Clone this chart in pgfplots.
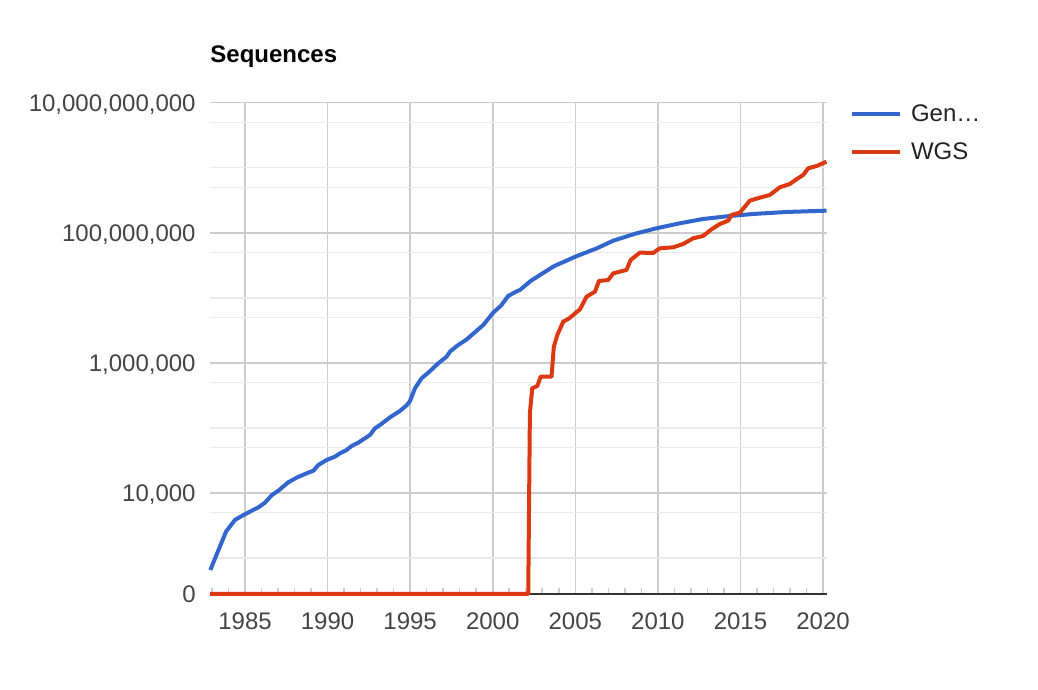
\documentclass[border=0pt]{standalone}
\usepackage{fontspec}
\setmainfont{Liberation Sans}
\usepackage{pgfplots}
\pgfplotsset{compat=1.18}

\definecolor{genblue}{HTML}{3366CC}
\definecolor{wgsred}{HTML}{DC3912}
\definecolor{gridmajor}{HTML}{CCCCCC}
\definecolor{gridminor}{HTML}{EBEBEB}
\definecolor{ticktext}{HTML}{444444}
\definecolor{legendtext}{HTML}{222222}
\definecolor{axisdark}{HTML}{333333}

\newcommand{\chartfont}{\fontsize{12}{14}\selectfont}

\begin{document}
\begin{tikzpicture}
% canvas
\useasboundingbox (0,0) rectangle (519pt,345pt);

\begin{axis}[
  at={(105pt,48pt)}, anchor=south west,
  scale only axis, width=308.25pt, height=245.65pt,
  xmin=1982.88, xmax=2020.21,
  % y holds log10 of the number of sequences; the bottom edge stands for 0
  ymin=2.447, ymax=10,
  clip=false,
  axis line style={draw=none},
  xtick={1985,1990,...,2020},
  xticklabels={1985,1990,1995,2000,2005,2010,2015,2020},
  minor xtick={1983,...,2020},
  ytick={2.447,4,6,8,10},
  yticklabels={0,{10,000},{1,000,000},{100,000,000},{10,000,000,000}},
  xtick pos=bottom, ytick pos=left,
  tick align=inside,
  major tick length=0pt,
  minor tick length=3pt,
  minor tick style={gridmajor, line width=0.75pt},
  xmajorgrids, ymajorgrids,
  major grid style={gridmajor, line width=0.8pt},
  tick label style={font=\chartfont, text=ticktext, inner sep=0pt},
  yticklabel style={anchor=base east, xshift=-7pt, yshift=-4.3pt},
  xticklabel style={anchor=base, yshift=-18pt},
]

% light gridlines at 5x10^k and odd powers of ten
\pgfplotsinvokeforeach{3,3.699,4.699,5,5.699,6.699,7,7.699,8.699,9,9.699}{
  \draw[gridminor, line width=0.75pt] (axis cs:1982.88,#1) -- (axis cs:2020.21,#1);
}
% baseline
\draw[axisdark, line width=1pt] (axis cs:1982.88,2.447) -- (axis cs:2020.21,2.447);

% GenBank
\addplot[genblue, line width=2pt, line join=round] table {
1982.90 2.816
1983.85 3.406
1984.39 3.585
1984.80 3.646
1985.30 3.713
1985.81 3.779
1986.21 3.851
1986.61 3.964
1987.02 4.036
1987.62 4.164
1988.13 4.236
1988.73 4.302
1989.14 4.343
1989.44 4.430
1989.94 4.507
1990.45 4.559
1990.75 4.610
1991.15 4.661
1991.46 4.723
1991.86 4.774
1992.57 4.892
1992.87 4.994
1993.17 5.045
1993.78 5.163
1994.38 5.261
1994.79 5.348
1994.99 5.414
1995.29 5.609
1995.69 5.763
1996.10 5.850
1996.70 5.993
1997.21 6.096
1997.41 6.173
1997.91 6.275
1998.42 6.360
1999.43 6.583
2000.03 6.772
2000.50 6.880
2000.94 7.030
2001.45 7.100
2001.65 7.121
2002.30 7.260
2002.86 7.351
2003.66 7.479
2003.87 7.505
2005.08 7.641
2006.29 7.760
2007.30 7.879
2008.71 7.992
2009.92 8.069
2011.33 8.146
2012.74 8.212
2014.36 8.258
2015.77 8.289
2017.79 8.320
2020.21 8.340
};

% WGS (zero before 2002)
\addplot[wgsred, line width=2pt, line join=round] table {
1982.88 2.447
2002.15 2.447
2002.25 5.225
2002.39 5.609
2002.70 5.645
2002.90 5.788
2003.56 5.788
2003.70 6.249
2003.91 6.429
2004.27 6.634
2004.63 6.685
2005.28 6.823
2005.68 7.018
2006.19 7.095
2006.43 7.259
2006.99 7.274
2007.30 7.377
2008.10 7.428
2008.35 7.582
2008.91 7.695
2009.72 7.690
2010.12 7.761
2010.93 7.777
2011.53 7.828
2012.14 7.915
2012.74 7.951
2013.25 8.053
2013.75 8.135
2014.26 8.186
2014.46 8.274
2014.96 8.309
2015.57 8.494
2016.17 8.540
2016.78 8.581
2017.38 8.699
2017.99 8.750
2018.39 8.822
2018.80 8.889
2019.10 8.991
2019.61 9.027
2020.21 9.093
};
\end{axis}

% title
\node[anchor=base west, inner sep=0pt, font=\bfseries\chartfont] at (105pt,313.9pt) {Sequences};

% legend
\draw[genblue, line width=2pt] (425.85pt,288pt) -- (450pt,288pt);
\node[anchor=base west, inner sep=0pt, font=\chartfont, text=legendtext] at (455.3pt,284.15pt) {Gen…};
\draw[wgsred, line width=2pt] (425.85pt,269.15pt) -- (450pt,269.15pt);
\node[anchor=base west, inner sep=0pt, font=\chartfont, text=legendtext] at (455.3pt,265pt) {WGS};
\end{tikzpicture}
\end{document}
